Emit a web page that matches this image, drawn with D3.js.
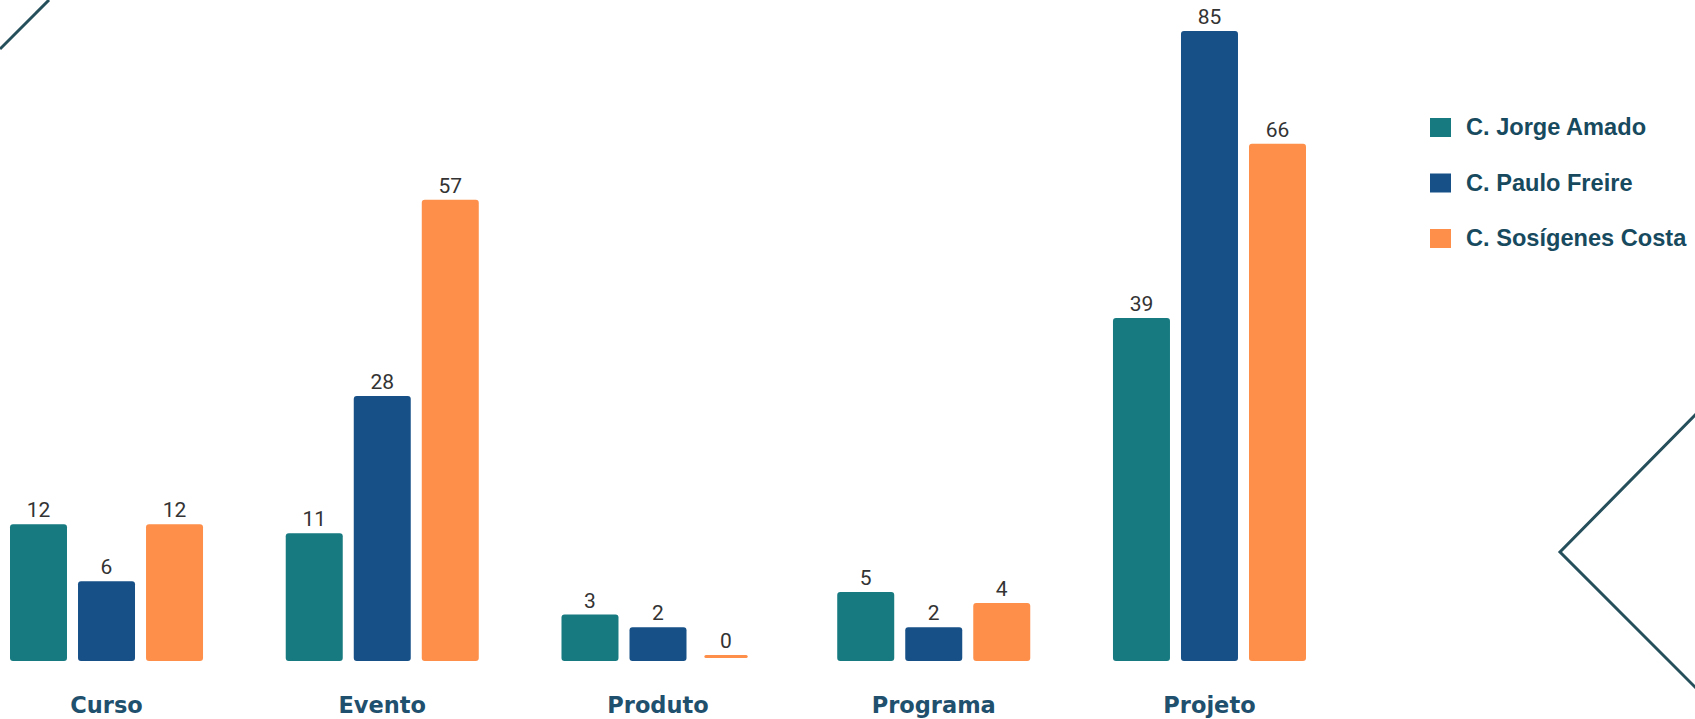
<!DOCTYPE html>
<html>
<head>
<meta charset="utf-8">
<script src="https://cdn.jsdelivr.net/npm/d3@7"></script>
<style>
  html, body { margin: 0; padding: 0; background: #ffffff; }
  svg { display: block; }
</style>
</head>
<body>
<svg id="chart" width="1695" height="719"></svg>
<script>
// ---- data ----
const categories = ["Curso", "Evento", "Produto", "Programa", "Projeto"];
const seriesNames = ["C. Jorge Amado", "C. Paulo Freire", "C. Sosígenes Costa"];
const jorgeAmado   = [12, 11, 3, 5, 39];
const pauloFreire  = [6, 28, 2, 2, 85];
const sosigenesCosta = [12, 57, 0, 4, 66];
const seriesColors = ["#167a80", "#165087", "#fd8f4a"];

const seriesValues = [jorgeAmado, pauloFreire, sosigenesCosta];
const rows = categories.map((c, i) => ({
  category: c,
  values: seriesNames.map((s, j) => ({ series: s, idx: j, value: seriesValues[j][i] }))
}));

// ---- layout ----
const svg = d3.select("#chart");
const baseY = 661, topY = 31;

const x0 = d3.scaleBand().domain(categories).range([10, 1306]).paddingInner(0.3).paddingOuter(0);
const x1 = d3.scaleBand().domain(seriesNames).range([0, x0.bandwidth()]).paddingInner(0.162).paddingOuter(0);
const y = d3.scalePow().exponent(0.78).domain([0, d3.max(seriesValues.flat())]).range([baseY, topY]);
const color = d3.scaleOrdinal().domain(seriesNames).range(seriesColors);

// decorative lines
svg.append("line").attr("x1", 0).attr("y1", 49).attr("x2", 49).attr("y2", 0)
  .attr("stroke", "#264f5c").attr("stroke-width", 3);
svg.append("path").attr("d", "M1697,413 L1560,552 L1697,689")
  .attr("fill", "none").attr("stroke", "#264f5c").attr("stroke-width", 3);

// bars
const g = svg.selectAll("g.grp").data(rows).join("g")
  .attr("class", "grp")
  .attr("transform", d => `translate(${x0(d.category)},0)`);

g.selectAll("rect").data(d => d.values).join("rect")
  .attr("x", d => d.value === 0 ? x1(d.series) + x1.bandwidth() * 0.12 : x1(d.series))
  .attr("width", d => d.value === 0 ? x1.bandwidth() * 0.76 : x1.bandwidth())
  .attr("y", d => d.value === 0 ? baseY - 6 : y(d.value))
  .attr("height", d => d.value === 0 ? 3 : baseY - y(d.value))
  .attr("rx", d => d.value === 0 ? 1.5 : 3)
  .attr("fill", d => color(d.series));

g.selectAll("text.val").data(d => d.values).join("text")
  .attr("class", "val")
  .attr("x", d => x1(d.series) + x1.bandwidth() / 2)
  .attr("y", d => (d.value === 0 ? baseY - 6 : y(d.value)) - 7)
  .attr("text-anchor", "middle")
  .attr("font-family", "Roboto, sans-serif")
  .attr("font-size", 21)
  .attr("fill", "#333333")
  .text(d => d.value);

// category labels
svg.selectAll("text.cat").data(categories).join("text")
  .attr("class", "cat")
  .attr("x", d => x0(d) + x0.bandwidth() / 2)
  .attr("y", 713)
  .attr("text-anchor", "middle")
  .attr("font-family", "'DejaVu Sans', sans-serif")
  .attr("font-weight", "bold")
  .attr("font-size", 22.5)
  .attr("fill", "#1f506d")
  .text(d => d);

// legend
const leg = svg.selectAll("g.leg").data(seriesNames).join("g")
  .attr("class", "leg")
  .attr("transform", (d, i) => `translate(1430,${118 + i * 55.5})`);
leg.append("rect").attr("width", 21).attr("height", 19).attr("fill", d => color(d));
leg.append("text").attr("x", 36).attr("y", 17)
  .attr("font-family", "'Liberation Sans', Arial, sans-serif")
  .attr("font-weight", "bold")
  .attr("font-size", 23.6)
  .attr("fill", "#174a5e")
  .text(d => d);
</script>
</body>
</html>
